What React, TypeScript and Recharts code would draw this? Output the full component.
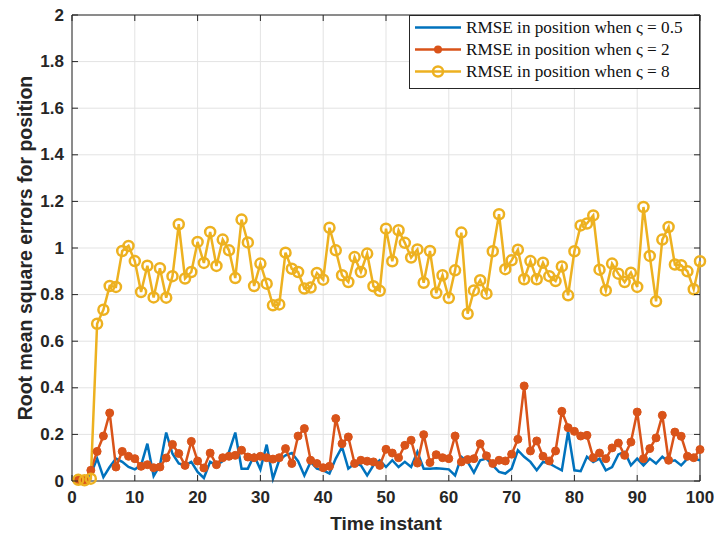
import * as React from "react";
import {
  LineChart,
  Line,
  XAxis,
  YAxis,
  CartesianGrid,
  ReferenceLine,
  Label,
} from "recharts";

const timeInstants = [
  1, 2, 3, 4, 5, 6, 7, 8, 9, 10, 11, 12, 13, 14, 15, 16, 17, 18, 19, 20,
  21, 22, 23, 24, 25, 26, 27, 28, 29, 30, 31, 32, 33, 34, 35, 36, 37, 38, 39, 40,
  41, 42, 43, 44, 45, 46, 47, 48, 49, 50, 51, 52, 53, 54, 55, 56, 57, 58, 59, 60,
  61, 62, 63, 64, 65, 66, 67, 68, 69, 70, 71, 72, 73, 74, 75, 76, 77, 78, 79, 80,
  81, 82, 83, 84, 85, 86, 87, 88, 89, 90, 91, 92, 93, 94, 95, 96, 97, 98, 99, 100,
];

// ς = 0.5
const rmseSmall = [
  0.003, 0.003, 0.03, 0.096, 0.017, 0.06, 0.096, 0.082, 0.06, 0.05,
  0.067, 0.16, 0.021, 0.067, 0.208, 0.117, 0.075, 0.067, 0.082, 0.039,
  0.013, 0.082, 0.067, 0.085, 0.125, 0.208, 0.053, 0.053, 0.11, 0.05,
  0.156, 0.01, 0.09, 0.11, 0.12, 0.085, 0.024, 0.082, 0.053, 0.046,
  0.032, 0.096, 0.146, 0.053, 0.075, 0.067, 0.024, 0.067, 0.089, 0.06,
  0.089, 0.06, 0.082, 0.06, 0.125, 0.053, 0.053, 0.055, 0.053, 0.05,
  0.024, 0.104, 0.082, 0.036, 0.089, 0.096, 0.067, 0.039, 0.032, 0.053,
  0.132, 0.104, 0.082, 0.046, 0.082, 0.075, 0.06, 0.046, 0.213, 0.046,
  0.042, 0.104, 0.082, 0.096, 0.046, 0.06, 0.114, 0.125, 0.067, 0.096,
  0.067, 0.096, 0.075, 0.104, 0.082, 0.089, 0.067, 0.096, 0.096, 0.089,
];

// ς = 2
const rmseMid = [
  0.004, 0.004, 0.046, 0.127, 0.193, 0.292, 0.06, 0.127, 0.106, 0.096,
  0.063, 0.07, 0.057, 0.06, 0.099, 0.157, 0.118, 0.067, 0.17, 0.086,
  0.056, 0.12, 0.07, 0.1, 0.106, 0.11, 0.132, 0.103, 0.1, 0.106,
  0.1, 0.094, 0.1, 0.139, 0.075, 0.193, 0.225, 0.089, 0.075, 0.057,
  0.063, 0.268, 0.16, 0.189, 0.075, 0.089, 0.085, 0.082, 0.067, 0.136,
  0.12, 0.1, 0.153, 0.175, 0.077, 0.199, 0.079, 0.113, 0.1, 0.096,
  0.193, 0.082, 0.092, 0.096, 0.16, 0.108, 0.075, 0.089, 0.086, 0.115,
  0.179, 0.408, 0.129, 0.172, 0.106, 0.086, 0.129, 0.299, 0.229, 0.213,
  0.193, 0.196, 0.1, 0.12, 0.096, 0.142, 0.163, 0.11, 0.167, 0.296,
  0.096, 0.139, 0.185, 0.282, 0.089, 0.21, 0.192, 0.106, 0.1, 0.135,
];

// ς = 8
const rmseLarge = [
  0.005, 0.003, 0.01, 0.675, 0.735, 0.837, 0.833, 0.987, 1.009, 0.944,
  0.811, 0.924, 0.788, 0.913, 0.787, 0.879, 1.102, 0.869, 0.897, 1.026,
  0.936, 1.069, 0.923, 1.036, 0.99, 0.871, 1.122, 1.024, 0.837, 0.933,
  0.847, 0.754, 0.758, 0.98, 0.911, 0.897, 0.826, 0.83, 0.893, 0.864,
  1.087, 0.99, 0.883, 0.854, 0.961, 0.897, 0.976, 0.836, 0.816, 1.083,
  0.943, 1.076, 1.022, 0.959, 0.994, 0.851, 0.987, 0.807, 0.883, 0.785,
  0.904, 1.066, 0.718, 0.818, 0.862, 0.804, 0.986, 1.145, 0.909, 0.947,
  0.993, 0.866, 0.944, 0.866, 0.937, 0.879, 0.858, 0.921, 0.797, 0.986,
  1.097, 1.105, 1.14, 0.907, 0.818, 0.933, 0.89, 0.854, 0.894, 0.833,
  1.176, 0.966, 0.771, 1.036, 1.09, 0.929, 0.926, 0.9, 0.823, 0.943,
];

const xTicks = [0, 10, 20, 30, 40, 50, 60, 70, 80, 90, 100];
const yTicks = [0, 0.2, 0.4, 0.6, 0.8, 1, 1.2, 1.4, 1.6, 1.8, 2];

const seriesNames = [
  "RMSE in position when ς = 0.5",
  "RMSE in position when ς = 2",
  "RMSE in position when ς = 8",
];

const BLUE = "#0072BD";
const RED = "#D95319";
const YELLOW = "#EDB120";
const AXIS = "#262626";
const TICK_FONT = "'Liberation Sans Narrow', 'Liberation Sans', Arial, sans-serif";

const data = timeInstants.map((t, i) => ({
  t,
  small: rmseSmall[i],
  mid: rmseMid[i],
  large: rmseLarge[i],
}));

// plot box edges (matlab-style ticks point inward on all four sides)
const PLOT_LEFT = 72;
const PLOT_RIGHT = 700;
const PLOT_TOP = 15;
const PLOT_BOTTOM = 481;

function YTick(props: any) {
  const { x, y, payload } = props;
  return (
    <g>
      <line x1={PLOT_LEFT} x2={PLOT_LEFT + 6} y1={y} y2={y} stroke={AXIS} />
      <line x1={PLOT_RIGHT} x2={PLOT_RIGHT - 6} y1={y} y2={y} stroke={AXIS} />
      <text
        x={x}
        y={y}
        textAnchor="end"
        dominantBaseline="central"
        fontFamily={TICK_FONT}
        fontWeight="bold"
        fontSize={17}
        fill={AXIS}
      >
        {payload.value}
      </text>
    </g>
  );
}

function XTick(props: any) {
  const { x, y, payload } = props;
  return (
    <g>
      <line x1={x} x2={x} y1={PLOT_BOTTOM} y2={PLOT_BOTTOM - 6} stroke={AXIS} />
      <line x1={x} x2={x} y1={PLOT_TOP} y2={PLOT_TOP + 6} stroke={AXIS} />
      <text
        x={x}
        y={y + 8}
        textAnchor="middle"
        dominantBaseline="central"
        fontFamily={TICK_FONT}
        fontWeight="bold"
        fontSize={17}
        fill={AXIS}
      >
        {payload.value}
      </text>
    </g>
  );
}

function LegendBox() {
  const colors = [BLUE, RED, YELLOW];
  return (
    <svg width={291} height={74} style={{ display: "block" }}>
      <rect x={0.5} y={0.5} width={290} height={73} fill="#fff" stroke={AXIS} />
      {seriesNames.map((name, i) => {
        const cy = 12.5 + i * 22;
        return (
          <g key={name}>
            <line x1={6} x2={52} y1={cy} y2={cy} stroke={colors[i]} strokeWidth={2.5} />
            {i === 1 && <circle cx={29} cy={cy} r={4} fill={RED} />}
            {i === 2 && (
              <circle cx={29} cy={cy} r={5} fill="none" stroke={YELLOW} strokeWidth={2.5} />
            )}
            <text
              x={57}
              y={cy}
              dominantBaseline="central"
              fontFamily="'Liberation Serif', 'DejaVu Serif', serif"
              fontSize={17.2}
              fill="#111"
            >
              {name}
            </text>
          </g>
        );
      })}
    </svg>
  );
}

export default function App() {
  return (
    <div style={{ position: "fixed", left: 0, top: 0, background: "#fff" }}>
      <LineChart
        width={714}
        height={536}
        data={data}
        margin={{ top: 15, right: 14, bottom: 0, left: 0 }}
      >
        <CartesianGrid stroke="#e3e3e3" strokeWidth={1} />
        <XAxis
          dataKey="t"
          type="number"
          domain={[0, 100]}
          ticks={xTicks}
          height={55}
          stroke={AXIS}
          tickLine={false}
          tick={<XTick />}
        >
          <Label
            content={() => (
              <text
                x={386}
                y={523}
                textAnchor="middle"
                dominantBaseline="central"
                fontFamily={TICK_FONT}
                fontWeight="bold"
                fontSize={19}
                fill={AXIS}
              >
                Time instant
              </text>
            )}
          />
        </XAxis>
        <YAxis
          type="number"
          domain={[0, 2]}
          ticks={yTicks}
          width={72}
          stroke={AXIS}
          tickLine={false}
          tick={<YTick />}
        >
          <Label
            content={() => (
              <text
                x={25}
                y={248}
                transform="rotate(-90 25 248)"
                textAnchor="middle"
                dominantBaseline="central"
                fontFamily={TICK_FONT}
                fontWeight="bold"
                fontSize={19.5}
                fill={AXIS}
              >
                Root mean square errors for position
              </text>
            )}
          />
        </YAxis>
        <ReferenceLine y={2} stroke={AXIS} ifOverflow="extendDomain" />
        <ReferenceLine x={100} stroke={AXIS} ifOverflow="extendDomain" />
        <Line
          dataKey="small"
          name={seriesNames[0]}
          stroke={BLUE}
          strokeWidth={2.5}
          dot={false}
          isAnimationActive={false}
        />
        <Line
          dataKey="mid"
          name={seriesNames[1]}
          stroke={RED}
          strokeWidth={2.5}
          dot={{ r: 4, fill: RED, stroke: RED, strokeWidth: 1 }}
          isAnimationActive={false}
        />
        <Line
          dataKey="large"
          name={seriesNames[2]}
          stroke={YELLOW}
          strokeWidth={2.5}
          dot={{ r: 5, fill: "none", stroke: YELLOW, strokeWidth: 2.5 }}
          isAnimationActive={false}
        />
      </LineChart>
      <div style={{ position: "absolute", left: 409, top: 15 }}>
        <LegendBox />
      </div>
    </div>
  );
}
